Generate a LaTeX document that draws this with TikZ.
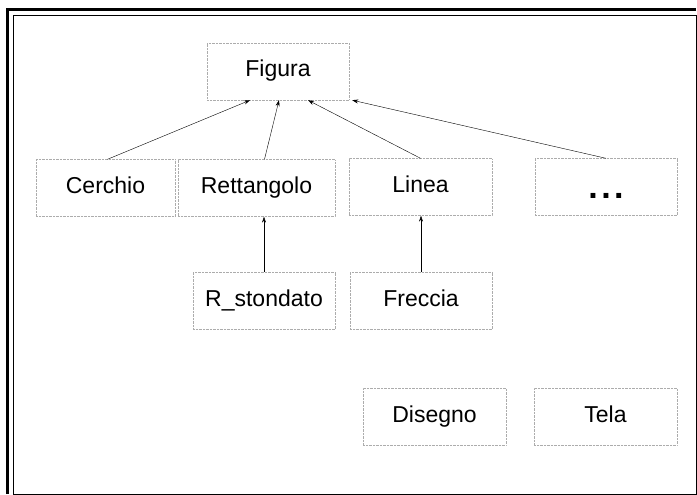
\documentclass[tikz,border=0pt]{standalone}
\usepackage{fontspec}
\setmainfont{Liberation Sans}
\usepackage{tikz}
\usetikzlibrary{positioning,arrows.meta}

\tikzset{
  classbox/.style={draw=gray!65, densely dotted, minimum width=142pt, minimum height=57pt,
    text height=16pt, text depth=5pt, font=\fontsize{23}{27}\selectfont},
}

\begin{document}
\begin{tikzpicture}[x=1pt,y=-1pt,>={Stealth[length=6pt,width=4pt]}]
\useasboundingbox (0,0) rectangle (697,495);
% cornice
\draw[line width=3pt] (7,494) -- (7,9.5) -- (696,9.5);
\draw[line width=0.8pt] (13,15) rectangle (696,494);
% classi
\node[classbox] (fig) at (278,71.5) {Figura};
\node[classbox, minimum width=139pt] (cer) at (105.5,188) {Cerchio};
\node[classbox, minimum width=157pt] (ret) at (256.5,188) {Rettangolo};
\node[classbox, minimum width=143pt] (lin) at (420.5,187) {Linea};
\node[classbox] (alt) at (606,187)
  {\raisebox{-6pt}{\fontsize{34}{34}\selectfont\bfseries.\hspace{3.5pt}.\hspace{3.5pt}.}};
\node[classbox] (rst) at (264,301) {R\_stondato};
\node[classbox] (fre) at (421,301) {Freccia};
\node[classbox, minimum width=143pt] (dis) at (434.5,416.5) {Disegno};
\node[classbox, minimum width=143pt] (tel) at (605.5,416.5) {Tela};
% ereditarieta
\draw[->] ([xshift=2pt]cer.north) -- ([xshift=-28pt]fig.south);
\draw[->] ([xshift=8pt]ret.north) -- ([xshift=1pt]fig.south);
\draw[->] (lin.north) -- ([xshift=30pt]fig.south);
\draw[->] (alt.north) -- ([xshift=3pt]fig.south east);
\draw[->] (rst.north) -- (rst.north |- ret.south);
\draw[->] (fre.north) -- (fre.north |- lin.south);
\end{tikzpicture}
\end{document}
